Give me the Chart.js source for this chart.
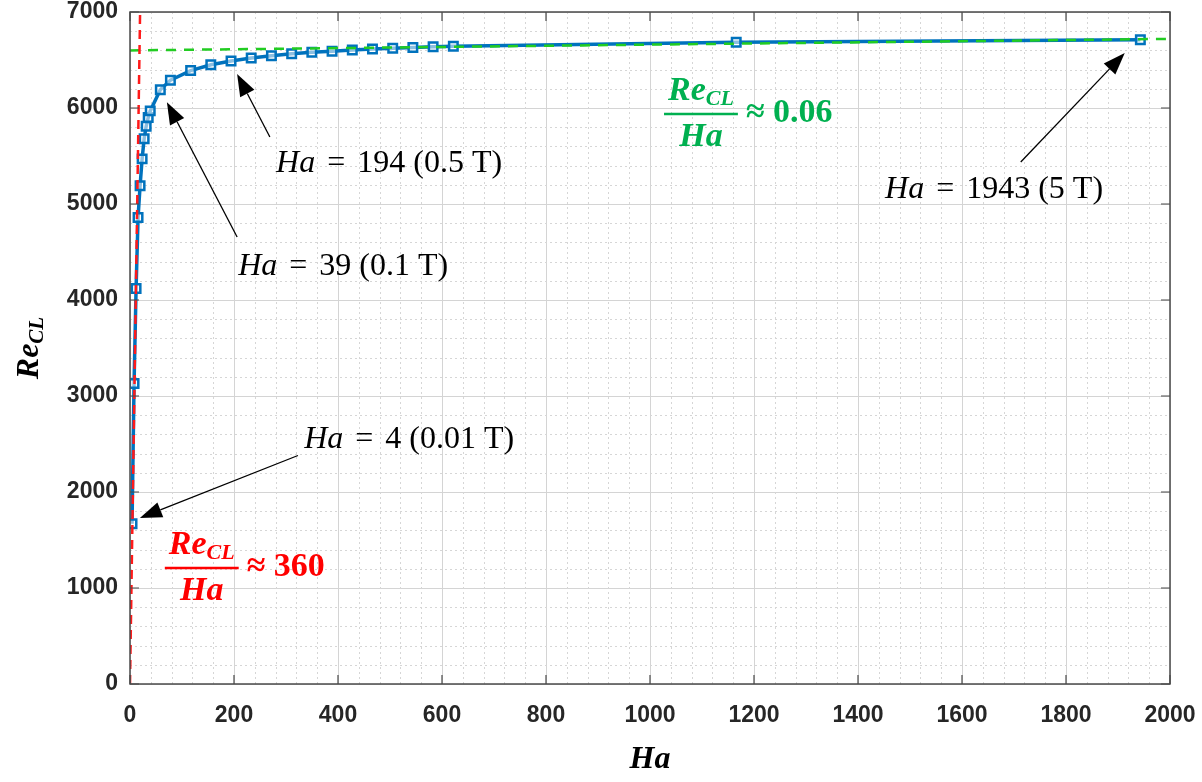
<!DOCTYPE html>
<html>
<head>
<meta charset="utf-8">
<script src="https://cdn.jsdelivr.net/npm/chart.js@4.4.0/dist/chart.umd.min.js"></script>
<style>
  html, body { margin: 0; padding: 0; background: #fff; }
  #wrap { width: 1202px; height: 782px; }
</style>
</head>
<body>
<div id="wrap"><canvas id="myChart"></canvas></div>
<script>
// Hartmann number for B = 0.01 ... 5 T and the critical Reynolds number
var haValues = [3.9, 7.8, 11.7, 15.5, 19.4, 23.3, 27.2, 31.1, 35.0, 38.9,
                58.3, 77.7, 116.6, 155.4, 194.3, 233.1, 272.0, 310.9, 349.7, 388.6,
                427.5, 466.3, 505.2, 544.0, 582.9, 621.8, 1165.8, 1943.0];
var reValues = [1670, 3130, 4120, 4860, 5190, 5470, 5680, 5810, 5900, 5970,
                6190, 6290, 6390, 6450, 6490, 6520, 6545, 6565, 6580, 6592,
                6605, 6615, 6622, 6630, 6637, 6643, 6685, 6712];

// asymptotes: Re/Ha ~ 360 at low Ha, Re/Ha ~ 0.06 at high Ha
var lowHa = [0, 19.4];
var lowRe = [0, 7000];
var highHa = [0, 2000];
var highRe = [6600, 6720];

var xTicks = [0, 200, 400, 600, 800, 1000, 1200, 1400, 1600, 1800, 2000];
var yTicks = [0, 1000, 2000, 3000, 4000, 5000, 6000, 7000];

// arrow callouts, in data units
var callouts = [
  { ha: '4', rest: ' (0.01 T)', text: [335, 2542], tail: [323, 2380], tip: [19, 1729] },
  { ha: '39', rest: ' (0.1 T)', text: [208, 4344], tail: [206, 4656], tip: [71, 6060] },
  { ha: '194', rest: ' (0.5 T)', text: [281, 5417], tail: [269, 5698], tip: [206, 6354] },
  { ha: '1943', rest: ' (5 T)', text: [1452, 5146], tail: [1713, 5437], tip: [1913, 6573] }
];
var ratios = [
  { value: '360', at: [138, 1208], color: '#ff0000' },
  { value: '0.06', at: [1098, 5938], color: '#00b050' }
];

function pairs(xs, ys) {
  return xs.map(function (x, i) { return { x: x, y: ys[i] }; });
}

var SERIF = '"Liberation Serif", "DejaVu Serif", serif';

function drawArrow(ctx, x0, y0, x1, y1) {
  var ang = Math.atan2(y1 - y0, x1 - x0);
  var len = 22, half = 8;
  var bx = x1 - len * Math.cos(ang), by = y1 - len * Math.sin(ang);
  ctx.strokeStyle = '#000';
  ctx.lineWidth = 1.3;
  ctx.beginPath();
  ctx.moveTo(x0, y0);
  ctx.lineTo(bx, by);
  ctx.stroke();
  ctx.fillStyle = '#000';
  ctx.beginPath();
  ctx.moveTo(x1, y1);
  ctx.lineTo(bx + half * Math.sin(ang), by - half * Math.cos(ang));
  ctx.lineTo(bx - half * Math.sin(ang), by + half * Math.cos(ang));
  ctx.closePath();
  ctx.fill();
}

// "Ha = n (B T)" with italic Ha and math spacing round the equals sign
function drawHaLabel(ctx, c, x, y) {
  ctx.textBaseline = 'middle';
  ctx.textAlign = 'left';
  ctx.fillStyle = '#000';
  ctx.font = 'italic 32px ' + SERIF;
  ctx.fillText('Ha', x, y);
  x += ctx.measureText('Ha').width + 12;
  ctx.font = '32px ' + SERIF;
  ctx.fillText('=', x, y);
  x += ctx.measureText('=').width + 12;
  ctx.fillText(c.ha + c.rest, x, y);
}

// Re_CL / Ha ≈ value, centred on the fraction bar
function drawRatio(ctx, r, cx, cy) {
  ctx.fillStyle = r.color;
  ctx.strokeStyle = r.color;
  ctx.textBaseline = 'alphabetic';
  ctx.textAlign = 'left';
  var big = 'bold italic 34px ' + SERIF, small = 'bold italic 22px ' + SERIF;
  ctx.font = big;
  var wRe = ctx.measureText('Re').width;
  ctx.font = small;
  var wCL = ctx.measureText('CL').width;
  ctx.font = big;
  var wHa = ctx.measureText('Ha').width;
  var barW = Math.max(wRe + wCL, wHa) + 8;
  var left = cx - barW / 2;
  var nx = cx - (wRe + wCL) / 2;
  ctx.font = big;
  ctx.fillText('Re', nx, cy - 14);
  ctx.font = small;
  ctx.fillText('CL', nx + wRe, cy - 9);
  ctx.font = big;
  ctx.fillText('Ha', cx - wHa / 2, cy + 32);
  ctx.lineWidth = 2.5;
  ctx.beginPath();
  ctx.moveTo(left, cy);
  ctx.lineTo(left + barW, cy);
  ctx.stroke();
  ctx.textBaseline = 'middle';
  ctx.font = 'bold 34px ' + SERIF;
  ctx.fillText('\u2248 ' + r.value, left + barW + 8, cy - 1);
}

var frame = {
  id: 'frame',
  beforeDatasetsDraw: function (chart) {
    var ctx = chart.ctx, a = chart.chartArea;
    var xs = chart.scales.x, ys = chart.scales.y;
    ctx.save();
    // minor dotted grid
    ctx.strokeStyle = '#d6d6d6';
    ctx.lineWidth = 1;
    ctx.setLineDash([2, 3]);
    for (var v = 40; v < 2000; v += 40) {
      if (v % 200 === 0) continue;
      var px = Math.round(xs.getPixelForValue(v)) + 0.5;
      ctx.beginPath(); ctx.moveTo(px, a.top); ctx.lineTo(px, a.bottom); ctx.stroke();
    }
    for (var w = 200; w < 7000; w += 200) {
      if (w % 1000 === 0) continue;
      var py = Math.round(ys.getPixelForValue(w)) + 0.5;
      ctx.beginPath(); ctx.moveTo(a.left, py); ctx.lineTo(a.right, py); ctx.stroke();
    }
    ctx.restore();
  },
  afterDatasetsDraw: function (chart) {
    var ctx = chart.ctx, a = chart.chartArea;
    var xs = chart.scales.x, ys = chart.scales.y;
    ctx.save();
    // box and inward ticks on all sides
    ctx.strokeStyle = '#4a4a4a';
    ctx.lineWidth = 1.5;
    ctx.setLineDash([]);
    ctx.strokeRect(a.left, a.top, a.right - a.left, a.bottom - a.top);
    ctx.lineWidth = 1.2;
    xTicks.forEach(function (t) {
      var px = xs.getPixelForValue(t);
      ctx.beginPath();
      ctx.moveTo(px, a.bottom); ctx.lineTo(px, a.bottom - 9);
      ctx.moveTo(px, a.top); ctx.lineTo(px, a.top + 9);
      ctx.stroke();
    });
    yTicks.forEach(function (t) {
      var py = ys.getPixelForValue(t);
      ctx.beginPath();
      ctx.moveTo(a.left, py); ctx.lineTo(a.left + 9, py);
      ctx.moveTo(a.right, py); ctx.lineTo(a.right - 9, py);
      ctx.stroke();
    });

    callouts.forEach(function (c) {
      drawArrow(ctx,
        xs.getPixelForValue(c.tail[0]), ys.getPixelForValue(c.tail[1]),
        xs.getPixelForValue(c.tip[0]), ys.getPixelForValue(c.tip[1]));
      drawHaLabel(ctx, c, xs.getPixelForValue(c.text[0]), ys.getPixelForValue(c.text[1]));
    });
    ratios.forEach(function (r) {
      drawRatio(ctx, r, xs.getPixelForValue(r.at[0]), ys.getPixelForValue(r.at[1]));
    });

    // axis titles
    ctx.fillStyle = '#000';
    ctx.textBaseline = 'middle';
    ctx.textAlign = 'center';
    ctx.font = 'bold italic 32px ' + SERIF;
    ctx.fillText('Ha', (a.left + a.right) / 2, 760);

    ctx.translate(27, (a.top + a.bottom) / 2);
    ctx.rotate(-Math.PI / 2);
    ctx.textAlign = 'left';
    ctx.textBaseline = 'alphabetic';
    var wRe = ctx.measureText('Re').width;
    ctx.font = 'bold italic 21px ' + SERIF;
    var wCL = ctx.measureText('CL').width;
    var sx = -(wRe + wCL) / 2;
    ctx.font = 'bold italic 32px ' + SERIF;
    ctx.fillText('Re', sx, 11);
    ctx.font = 'bold italic 21px ' + SERIF;
    ctx.fillText('CL', sx + wRe, 16);
    ctx.restore();
  }
};

var ctx = document.getElementById('myChart').getContext('2d');
ctx.canvas.width = 1202;
ctx.canvas.height = 782;

var tickFont = { family: '"Liberation Sans", Arial, sans-serif', size: 23, weight: 'bold' };
var plain = function (v) { return String(v); };

var myChart = new Chart(ctx, {
  type: 'scatter',
  data: {
    datasets: [{
      label: 'Re/Ha = 360',
      data: pairs(lowHa, lowRe),
      showLine: true,
      borderColor: '#ff1a1a',
      borderWidth: 2.5,
      borderDash: [9, 6],
      pointRadius: 0
    }, {
      label: 'Re/Ha = 0.06',
      data: pairs(highHa, highRe),
      showLine: true,
      borderColor: '#22cc22',
      borderWidth: 2.5,
      borderDash: [10, 8],
      pointRadius: 0
    }, {
      label: 'Re_CL',
      data: pairs(haValues, reValues),
      showLine: true,
      borderColor: '#0072bd',
      borderWidth: 3.5,
      pointStyle: 'rect',
      pointRadius: 6,
      pointBorderWidth: 2.5,
      pointBorderColor: '#0072bd',
      pointBackgroundColor: 'rgba(255,255,255,0.55)'
    }]
  },
  options: {
    responsive: false,
    animation: false,
    devicePixelRatio: 1,
    layout: { padding: { top: 12, right: 32, left: 0, bottom: 0 } },
    plugins: { legend: { display: false }, tooltip: { enabled: false } },
    scales: {
      x: {
        type: 'linear',
        min: 0, max: 2000,
        afterBuildTicks: function (s) { s.ticks = xTicks.map(function (v) { return { value: v }; }); },
        afterFit: function (s) { s.height = 98; s.paddingLeft = 0; s.paddingRight = 0; },
        grid: { color: '#d4d4d4', lineWidth: 1, drawTicks: false },
        border: { display: false },
        ticks: { padding: 18, color: '#262626', font: tickFont, callback: plain }
      },
      y: {
        type: 'linear',
        min: 0, max: 7000,
        afterBuildTicks: function (s) { s.ticks = yTicks.map(function (v) { return { value: v }; }); },
        afterFit: function (s) { s.width = 130; s.paddingTop = 0; s.paddingBottom = 0; },
        grid: { color: '#d4d4d4', lineWidth: 1, drawTicks: false },
        border: { display: false },
        ticks: { padding: 12, color: '#262626', font: tickFont, callback: plain }
      }
    }
  },
  plugins: [frame]
});
</script>
</body>
</html>
